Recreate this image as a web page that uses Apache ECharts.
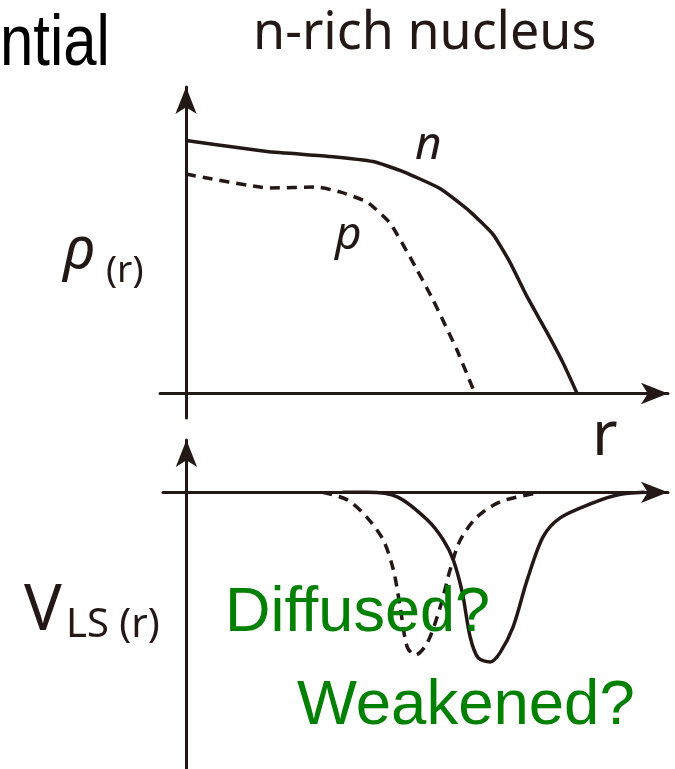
<!DOCTYPE html>
<html>
<head>
<meta charset="utf-8">
<script src="https://cdn.jsdelivr.net/npm/echarts@6/dist/echarts.min.js"></script>
<style>
  html, body { margin: 0; padding: 0; background: #ffffff; }
  #chart { width: 675px; height: 769px; }
</style>
</head>
<body>
<div id="chart"></div>
<script>
// Density profiles of a neutron-rich nucleus (upper panel)
const rN   = [0, 3.11, 5.53, 7.18, 8.33, 9.75, 10.90, 11.79, 12.44, 13.09, 13.86, 14.47, 15.01];
const rhoN = [1.032, 0.987, 0.967, 0.946, 0.905, 0.836, 0.742, 0.648, 0.534, 0.395, 0.248, 0.125, 0];
const rP   = [0, 3.22, 5.03, 5.91, 6.95, 7.83, 8.60, 9.48, 10.40, 11.09];
const rhoP = [0.895, 0.838, 0.842, 0.822, 0.781, 0.695, 0.556, 0.382, 0.177, 0];

// Spin-orbit potential (lower panel): solid = neutron-rich case, dashed = reference
const rVs = [6.0, 6.95, 8.10, 9.25, 9.87, 10.25, 10.60, 10.90, 11.21, 11.67, 12.05, 12.55, 13.09, 13.70, 14.36, 15.62, 16.55, 17.6];
const vS  = [0, 0, -0.023, -0.139, -0.241, -0.342, -0.509, -0.732, -0.838, -0.858, -0.811, -0.681, -0.443, -0.225, -0.129, -0.053, -0.013, 0];
const rVd = [5.22, 6.18, 6.95, 7.56, 7.95, 8.21, 8.48, 8.79, 9.25, 9.75, 10.13, 10.52, 11.17, 12.05, 13.47, 13.6];
const vD  = [0, -0.038, -0.129, -0.241, -0.392, -0.580, -0.782, -0.823, -0.762, -0.580, -0.392, -0.241, -0.124, -0.048, -0.003, 0];

const ink = '#231815';
const green = '#008000';

function pairs(xs, ys) { return xs.map((x, i) => [x, ys[i]]); }

function axis(gridIndex, min, max) {
  return {
    gridIndex, type: 'value', min, max,
    axisLine: { onZero: true, symbol: ['none', 'arrow'], symbolSize: [16, 27],
                lineStyle: { color: ink, width: 3 } },
    axisTick: { show: false }, axisLabel: { show: false }, splitLine: { show: false }
  };
}

function line(xi, yi, data, dashed, smooth) {
  return {
    type: 'line', xAxisIndex: xi, yAxisIndex: yi, data,
    showSymbol: false, smooth, z: 3,
    lineStyle: { color: ink, width: 3.5, type: dashed ? [10, 7] : 'solid', cap: 'butt' }
  };
}

// Text helper: places text by its left edge and baseline
function label(text, x, baseline, size, family, extra) {
  const k = family.indexOf('Noto') >= 0 ? 0.31 : 0.3465;
  const st = Object.assign({
    text, x: 0, y: 0, fill: ink,
    font: size + 'px "' + family + '"',
    textAlign: 'left', textVerticalAlign: 'middle'
  }, (extra && extra.style) || {});
  return Object.assign({
    type: 'text', x, y: baseline - k * size, z: 100, silent: true, style: st
  }, (extra && extra.el) || {});
}

const chart = echarts.init(document.getElementById('chart'), null, { renderer: 'canvas' });
chart.setOption({
  animation: false,
  backgroundColor: '#ffffff',
  grid: [
    { left: 160, right: 7, top: 87, height: 331 },
    { left: 163, right: 7, top: 440, bottom: 0 }
  ],
  xAxis: [axis(0, -1, 18.5), axis(1, -0.9, 18.5)],
  yAxis: [axis(0, -0.1, 1.25), axis(1, -1.4, 0.265)],
  series: [
    line(0, 0, pairs(rN, rhoN), false, 0.15),
    line(0, 0, pairs(rP, rhoP), true, 0.15),
    line(1, 1, pairs(rVs, vS), false, 0.3),
    line(1, 1, pairs(rVd, vD), true, 0.3)
  ],
  graphic: [
    label('ntial', 0, 70, 73, 'Liberation Sans', { el: { scaleX: 0.82 }, style: { fill: '#000000' } }),
    label('n-rich nucleus', 253, 50, 52, 'Noto Sans'),
    label('n', 415, 160, 46, 'Noto Sans', { style: { font: 'italic 46px "Noto Sans"' } }),
    label('p', 335, 250, 46, 'Noto Sans', { style: { font: 'italic 46px "Noto Sans"' } }),
    label('ρ', 63, 269, 59, 'Noto Sans', { style: { font: 'italic 59px "Noto Sans"' } }),
    label('(r)', 106, 283, 37, 'Noto Sans'),
    label('r', 592, 457, 62, 'Noto Sans'),
    label('V', 24, 632, 63, 'Noto Sans'),
    label('LS (r)', 66, 638, 40, 'Noto Sans'),
    label('Diffused?', 225, 635, 63, 'Liberation Sans', { style: { fill: green } }),
    label('Weakened?', 297, 728, 63.5, 'Liberation Sans', { style: { fill: green } })
  ]
});
</script>
</body>
</html>
